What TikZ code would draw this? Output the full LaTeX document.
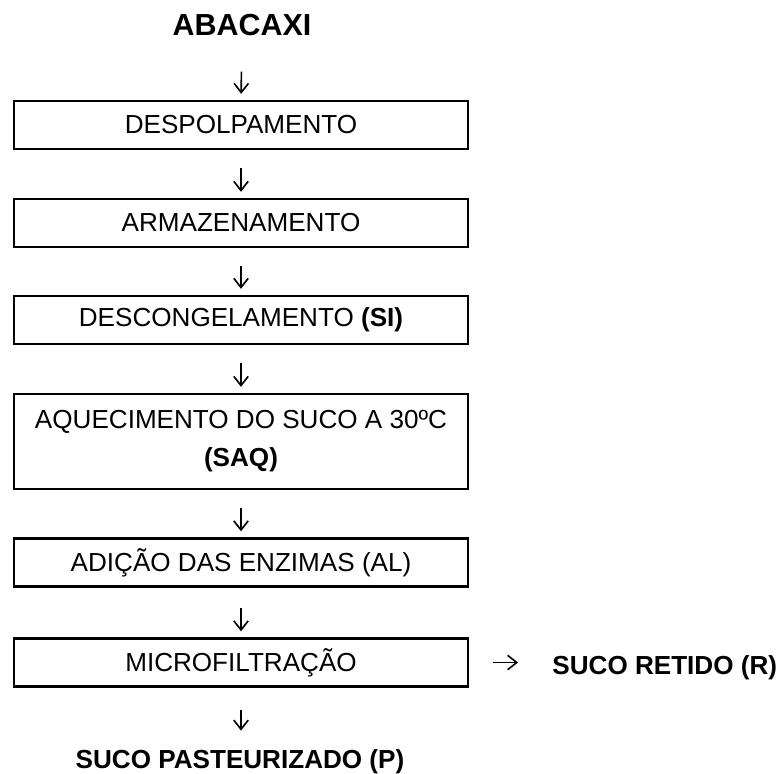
\documentclass[tikz,border=0pt]{standalone}
\usepackage{fontspec}
\setmainfont{Liberation Sans}
\usetikzlibrary{arrows.meta}
\begin{document}
\begin{tikzpicture}[x=0.46pt,y=-0.46pt,
    >={Straight Barb[length=4.2pt,width=6.6pt]},
    font=\fontsize{12}{17.5}\selectfont,
    etapa/.style={draw,line width=1pt,minimum width=208.8pt,
        minimum height=22.1pt,inner sep=0pt},
    rotulo/.style={anchor=base,inner sep=0pt,font=\fontsize{12}{14}\selectfont\bfseries},
    seta/.style={->,line width=0.75pt,shorten <=8.3pt,shorten >=2.8pt}]
    \useasboundingbox (0,0) rectangle (783,773);
    % entrada
    \node[rotulo,font=\fontsize{14}{17}\selectfont\bfseries] (abacaxi) at (242,35) {ABACAXI};
    % etapas do processo
    \node[etapa] (desp) at (241,125) {DESPOLPAMENTO};
    \node[etapa] (armaz) at (241,223) {ARMAZENAMENTO};
    \node[etapa] (descong) at (241,320) {DESCONGELAMENTO \textbf{(SI)}};
    \node[etapa,minimum height=43.7pt,align=center] (aquec) at (241,441.5)
        {AQUECIMENTO DO SUCO A 30ºC\\\textbf{(SAQ)}};
    \node[etapa] (enzimas) at (241,562.5) {ADIÇÃO DAS ENZIMAS (AL)};
    \node[etapa] (micro) at (241,662.5) {MICROFILTRAÇÃO};
    % saidas
    \node[rotulo,anchor=base west] (retido) at (552,674) {SUCO RETIDO (R)};
    \node[rotulo] (past) at (240,768) {SUCO PASTEURIZADO (P)};
    % setas
    \draw[seta,shorten <=16.5pt] (abacaxi.south) -- (desp.north);
    \draw[seta] (desp) -- (armaz);
    \draw[seta] (armaz) -- (descong);
    \draw[seta] (descong) -- (aquec);
    \draw[seta] (aquec) -- (enzimas);
    \draw[seta,shorten <=9.5pt] (enzimas) -- (micro);
    \draw[seta,shorten <=10.5pt,shorten >=8.3pt] (micro.south) -- (micro.south |- past.north);
    \draw[seta,shorten <=11pt,shorten >=15.6pt] (micro.east) -- (micro.east -| retido.west);
\end{tikzpicture}
\end{document}
